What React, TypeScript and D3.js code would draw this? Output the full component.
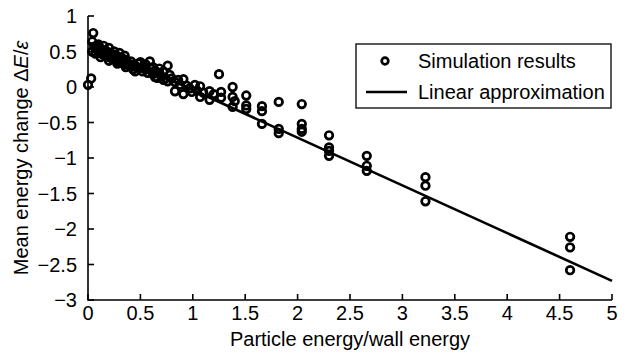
import React from "react";
import * as d3 from "d3";

const simX = [
  0.0, 0.03, 0.05, 0.04, 0.04, 0.06, 0.07,
  0.08, 0.09, 0.1, 0.11, 0.12, 0.13, 0.14, 0.15, 0.16, 0.17, 0.18, 0.19, 0.2,
  0.21, 0.22, 0.23, 0.24, 0.25, 0.26, 0.27, 0.28, 0.29, 0.3, 0.31, 0.32, 0.33,
  0.34, 0.35, 0.36, 0.38, 0.4, 0.41, 0.43, 0.44, 0.46, 0.48, 0.5, 0.52, 0.53,
  0.55, 0.57, 0.59, 0.6, 0.62, 0.64, 0.66, 0.68, 0.7, 0.72, 0.74, 0.76, 0.76,
  0.78, 0.8, 0.83, 0.83, 0.86, 0.88, 0.91, 0.91, 0.94, 0.97, 0.99, 1.02, 1.04,
  1.07, 1.07, 1.1, 1.16, 1.16, 1.2, 1.25, 1.27, 1.27, 1.38, 1.38, 1.38, 1.4,
  1.51, 1.51, 1.51, 1.66, 1.66, 1.66, 1.82, 1.82, 1.82, 2.04, 2.04, 2.04, 2.04,
  2.3, 2.3, 2.3, 2.3, 2.66, 2.66, 2.66, 3.22, 3.22, 3.22, 4.6, 4.6, 4.6,
  0.1, 0.15, 0.2, 0.25, 0.3, 0.35, 0.12, 0.2, 0.28, 0.36, 0.45, 0.5, 0.55,
  0.62, 0.68, 0.72, 0.64,
];
const simY = [
  0.03, 0.12, 0.76, 0.64, 0.5, 0.57, 0.47,
  0.58, 0.52, 0.55, 0.48, 0.54, 0.5, 0.46, 0.52, 0.49, 0.44, 0.5, 0.46, 0.42,
  0.48, 0.44, 0.4, 0.46, 0.42, 0.38, 0.44, 0.4, 0.36, 0.42, 0.38, 0.34, 0.4,
  0.36, 0.32, 0.38, 0.34, 0.3, 0.36, 0.25, 0.32, 0.28, 0.33, 0.27, 0.22, 0.3,
  0.25, 0.2, 0.36, 0.26, 0.18, 0.23, 0.13, 0.2, 0.15, 0.22, 0.12, 0.3, 0.08,
  0.17, 0.12, -0.06, 0.07, 0.1, 0.03, -0.1, 0.11, 0.02, -0.02, -0.07, 0.03, -0.05,
  0.01, -0.14, -0.08, -0.06, -0.18, -0.1, 0.18, -0.07, -0.15, 0.0, -0.14, -0.28, -0.2,
  -0.12, -0.26, -0.31, -0.27, -0.34, -0.52, -0.21, -0.59, -0.65, -0.24, -0.52, -0.59, -0.63,
  -0.68, -0.85, -0.9, -0.97, -0.97, -1.11, -1.18, -1.27, -1.39, -1.61, -2.11, -2.26, -2.58,
  0.6, 0.58, 0.55, 0.5, 0.48, 0.44, 0.42, 0.37, 0.33, 0.28, 0.22, 0.35, 0.32,
  0.28, 0.26, 0.1, 0.14,
];
const lineX = [0, 5];
const lineY = [0.63, -2.73];
const xTicks = [0, 0.5, 1, 1.5, 2, 2.5, 3, 3.5, 4, 4.5, 5];
const yTicks = [1, 0.5, 0, -0.5, -1, -1.5, -2, -2.5, -3];
const legendLabels = ["Simulation results", "Linear approximation"];
const xTitle = "Particle energy/wall energy";

const W = 626;
const H = 362;
const FONT = "'Liberation Sans', Arial, Helvetica, sans-serif";

const fmt = (v: number) => (v < 0 ? "\u2212" + String(-v) : String(v));

export default function App() {
  const x = d3.scaleLinear().domain([0, 5]).range([88, 612]);
  const y = d3.scaleLinear().domain([-3, 1]).range([300, 16]);
  const line = d3
    .line<number>()
    .x((d) => x(lineX[d]))
    .y((d) => y(lineY[d]));
  const tickLen = 6;
  return (
    <svg
      width={W}
      height={H}
      style={{ position: "absolute", left: 0, top: 0, background: "#fff" }}
      fontFamily={FONT}
    >
      <rect width={W} height={H} fill="#fff" />
      <path
        d={`M${x(0)},${y(1)}V${y(-3)}H${x(5)}`}
        fill="none"
        stroke="#000"
        strokeWidth={1.6}
      />
      {yTicks.map((t) => (
        <g key={"y" + t}>
          <line x1={x(0)} x2={x(0) + tickLen} y1={y(t)} y2={y(t)} stroke="#000" strokeWidth={1.6} />
          <text x={77} y={y(t)} dy="0.35em" textAnchor="end" fontSize={20} fill="#000">
            {fmt(t)}
          </text>
        </g>
      ))}
      {xTicks.map((t) => (
        <g key={"x" + t}>
          <line x1={x(t)} x2={x(t)} y1={y(-3)} y2={y(-3) - tickLen} stroke="#000" strokeWidth={1.6} />
          <text x={x(t)} y={y(-3) + 13} dy="0.35em" textAnchor="middle" fontSize={20} fill="#000">
            {fmt(t)}
          </text>
        </g>
      ))}
      <text x={(x(0) + x(5)) / 2} y={346} textAnchor="middle" fontSize={20} fill="#000">
        {xTitle}
      </text>
      <text
        transform={`translate(28,${(y(1) + y(-3)) / 2}) rotate(-90)`}
        textAnchor="middle"
        fontSize={20}
        fill="#000"
      >
        Mean energy change {"\u0394"}
        <tspan fontStyle="italic">E</tspan>/<tspan fontStyle="italic">{"\u03b5"}</tspan>
      </text>
      <path d={line([0, 1]) || ""} fill="none" stroke="#000" strokeWidth={2.6} />
      {simX.map((v, i) => (
        <circle
          key={i}
          cx={x(v)}
          cy={y(simY[i])}
          r={3.8}
          fill="none"
          stroke="#000"
          strokeWidth={2.7}
        />
      ))}
      <rect x={356} y={44} width={255} height={64} fill="#fff" stroke="#000" strokeWidth={1.3} />
      <circle cx={385} cy={61} r={3.3} fill="none" stroke="#000" strokeWidth={2.7} />
      <text x={418} y={61} dy="0.35em" fontSize={20} fill="#000">
        {legendLabels[0]}
      </text>
      <line x1={366} x2={407} y1={92} y2={92} stroke="#000" strokeWidth={2.6} />
      <text x={418} y={92} dy="0.35em" fontSize={20} fill="#000">
        {legendLabels[1]}
      </text>
    </svg>
  );
}
